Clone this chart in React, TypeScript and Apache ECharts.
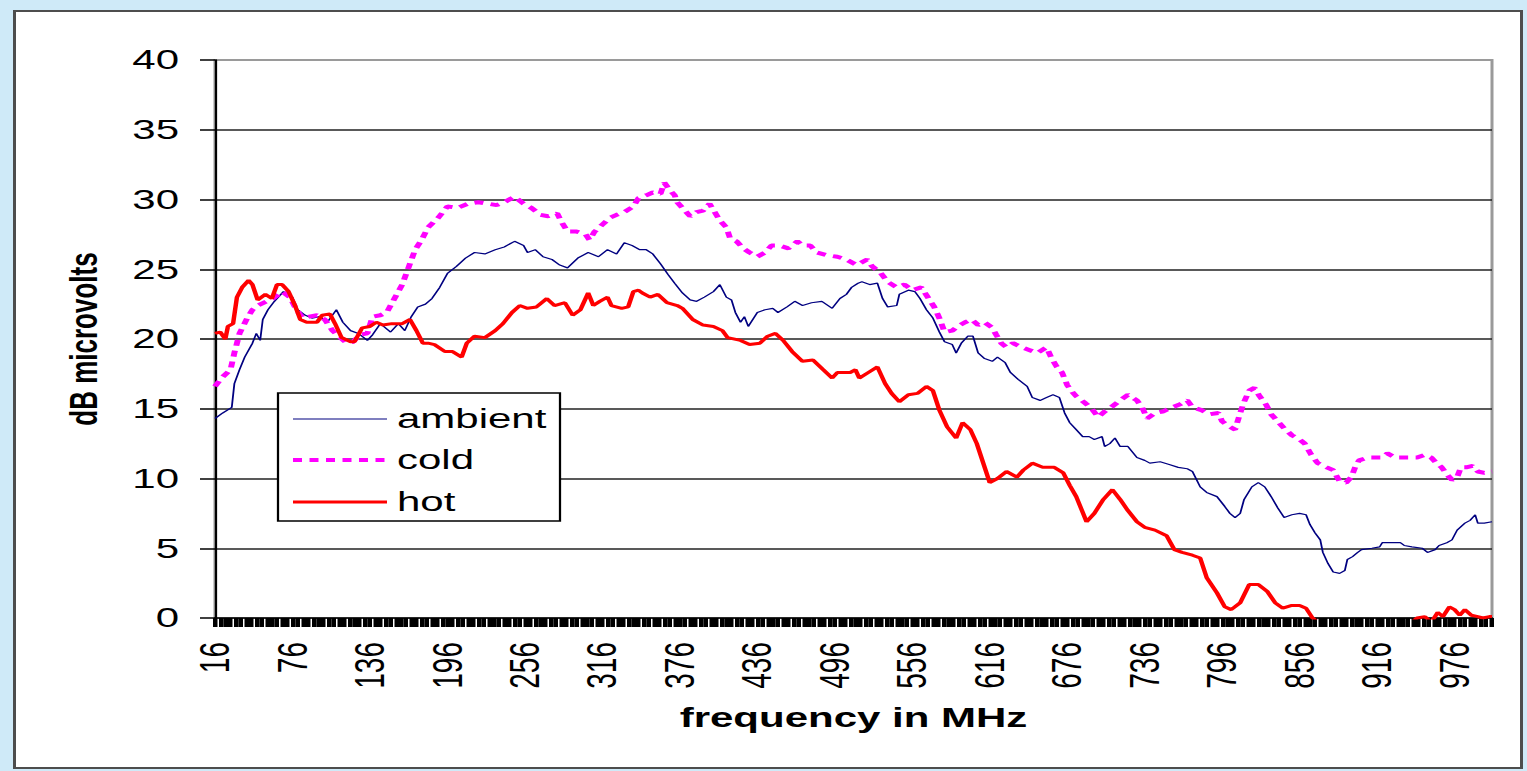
import React, { useEffect, useRef } from "react";
import * as echarts from "echarts";

// The reference is a horizontally stretched picture: the chart is drawn at 1/1.5 width and stretched.
const STRETCH = 1.5;
const PAGE_W = 1527;
const PAGE_H = 771;
const W = PAGE_W / STRETCH;
const H = PAGE_H;
const FONT = "'Liberation Sans', Arial, sans-serif";

const xMin = 16;
const xMax = 1005;
const xLabelValues = [16, 76, 136, 196, 256, 316, 376, 436, 496, 556, 616, 676, 736, 796, 856, 916, 976];
const yTicks = { min: 0, max: 40, step: 5 };

const seriesNames = ["ambient", "cold", "hot"];

const ambientData: [number, number][] = [
  [16, 14.3], [22, 14.7], [29, 15.1], [31, 16.8], [35, 17.8], [39, 18.7], [45, 19.7], [48, 20.4], [51, 19.9],
  [53, 21.4], [57, 22.1], [62, 22.7], [69, 23.4], [76, 23.0], [80, 22.1], [86, 21.7], [91, 21.5], [97, 21.6],
  [103, 21.2], [110, 22.1], [115, 21.2], [121, 20.6], [127, 20.4], [134, 19.9], [138, 20.3], [144, 21.1],
  [152, 20.5], [158, 21.1], [163, 20.6], [168, 21.6], [173, 22.3], [179, 22.5], [184, 22.9], [190, 23.7],
  [196, 24.7], [203, 25.2], [210, 25.8], [217, 26.2], [225, 26.1], [233, 26.4], [240, 26.6], [248, 27.0],
  [255, 26.7], [258, 26.2], [264, 26.4], [270, 25.9], [277, 25.7], [283, 25.3], [289, 25.1], [297, 25.8],
  [305, 26.2], [313, 25.9], [320, 26.4], [327, 26.1], [333, 26.9], [339, 26.7], [345, 26.4], [350, 26.4],
  [355, 26.1], [361, 25.4], [367, 24.6], [372, 24.0], [378, 23.3], [384, 22.8], [389, 22.7], [395, 23.0],
  [402, 23.4], [407, 23.9], [412, 23.0], [416, 22.8], [419, 21.9], [423, 21.2], [426, 21.6], [429, 20.9],
  [436, 21.9], [442, 22.1], [448, 22.2], [452, 21.9], [459, 22.3], [465, 22.7], [471, 22.4], [478, 22.6],
  [486, 22.7], [494, 22.2], [500, 22.9], [505, 23.2], [509, 23.7], [514, 24.0], [517, 24.1], [523, 23.9],
  [529, 24.0], [533, 22.9], [537, 22.3], [544, 22.4], [546, 23.2], [553, 23.5], [558, 23.4], [562, 22.9],
  [567, 22.1], [572, 21.5], [577, 20.5], [581, 19.8], [587, 19.6], [590, 19.0], [594, 19.7], [599, 20.2],
  [603, 20.2], [607, 19.0], [612, 18.6], [618, 18.4], [622, 18.7], [628, 18.3], [632, 17.6], [638, 17.1],
  [645, 16.6], [649, 15.8], [655, 15.6], [660, 15.8], [665, 16.0], [670, 15.8], [674, 14.7], [678, 14.0],
  [683, 13.5], [688, 13.0], [693, 13.0], [697, 12.8], [703, 13.0], [705, 12.3], [709, 12.5], [713, 12.9],
  [717, 12.3], [723, 12.3], [730, 11.5], [736, 11.3], [740, 11.1], [748, 11.2], [755, 11.0], [762, 10.8],
  [769, 10.7], [773, 10.5], [779, 9.4], [784, 9.0], [792, 8.7], [798, 8.0], [802, 7.5], [806, 7.2],
  [810, 7.5], [813, 8.5], [819, 9.4], [824, 9.7], [829, 9.4], [834, 8.7], [839, 7.9], [844, 7.2],
  [850, 7.4], [856, 7.5], [861, 7.4], [864, 6.7], [868, 6.1], [872, 5.6], [874, 4.7], [878, 3.9],
  [882, 3.3], [887, 3.2], [891, 3.4], [893, 4.2], [897, 4.4], [901, 4.7], [904, 4.9], [912, 5.0],
  [918, 5.1], [920, 5.4], [927, 5.4], [934, 5.4], [937, 5.2], [943, 5.1], [951, 5.0], [955, 4.7],
  [961, 4.9], [964, 5.2], [970, 5.4], [974, 5.6], [978, 6.3], [984, 6.8], [988, 7.0], [992, 7.4],
  [994, 6.8], [999, 6.8], [1005, 6.9],
];

const coldData: [number, number][] = [
  [16, 16.6], [21, 17.2], [28, 17.8], [31, 19.0], [35, 20.4], [41, 21.5], [45, 22.1], [49, 22.4], [56, 22.7],
  [61, 22.9], [68, 23.4], [74, 23.0], [79, 22.1], [84, 21.5], [89, 21.6], [95, 21.7], [101, 21.4], [107, 20.6],
  [113, 20.1], [118, 19.7], [123, 19.8], [128, 20.3], [134, 20.4], [138, 21.6], [144, 21.7], [149, 21.9],
  [155, 22.9], [161, 23.9], [165, 24.9], [171, 26.4], [176, 27.1], [181, 28.0], [189, 28.7], [196, 29.5],
  [204, 29.4], [212, 29.7], [220, 29.8], [227, 29.7], [234, 29.6], [240, 29.8], [248, 30.2], [255, 29.7],
  [261, 29.4], [268, 28.9], [274, 28.8], [281, 29.0], [285, 28.3], [289, 27.7], [296, 27.7], [303, 27.5],
  [306, 27.1], [310, 27.7], [316, 28.2], [322, 28.7], [327, 28.9], [333, 29.1], [340, 29.5], [344, 30.1],
  [350, 30.3], [355, 30.5], [361, 30.4], [364, 31.2], [368, 30.7], [372, 30.3], [374, 29.8], [380, 29.2],
  [384, 28.8], [389, 29.1], [394, 29.2], [399, 29.7], [403, 29.1], [407, 28.5], [412, 28.0], [415, 27.2],
  [420, 27.0], [425, 26.5], [430, 26.2], [436, 25.9], [442, 26.2], [447, 26.7], [453, 26.7], [460, 26.5],
  [467, 27.0], [471, 26.7], [477, 26.7], [482, 26.2], [490, 26.0], [498, 25.9], [505, 25.7], [513, 25.3],
  [521, 25.7], [525, 25.2], [531, 24.8], [537, 24.1], [544, 23.7], [550, 23.9], [556, 23.5], [563, 23.7],
  [568, 23.0], [573, 22.3], [577, 21.5], [581, 20.5], [587, 20.6], [591, 20.9], [597, 21.2], [602, 21.4],
  [607, 21.0], [612, 21.2], [618, 20.8], [621, 20.3], [625, 19.7], [629, 19.4], [634, 19.7], [641, 19.4],
  [647, 19.2], [653, 19.0], [660, 19.4], [664, 18.6], [668, 18.0], [672, 17.6], [676, 16.7], [680, 16.2],
  [683, 15.9], [690, 15.4], [695, 15.0], [700, 14.4], [705, 14.8], [710, 15.1], [717, 15.6], [723, 16.0],
  [730, 15.6], [734, 15.1], [738, 14.3], [744, 14.7], [750, 14.8], [757, 15.1], [763, 15.3], [769, 15.6],
  [773, 15.1], [780, 14.9], [786, 14.6], [793, 14.7], [796, 14.1], [800, 13.8], [806, 13.5], [810, 14.7],
  [813, 15.5], [817, 16.3], [821, 16.5], [825, 15.9], [830, 15.3], [834, 14.6], [839, 14.1], [844, 13.6],
  [850, 13.1], [856, 12.8], [860, 12.5], [865, 11.7], [870, 11.1], [877, 10.8], [882, 10.6], [887, 9.8],
  [892, 9.7], [896, 10.1], [899, 10.8], [902, 11.3], [909, 11.5], [916, 11.5], [920, 11.5], [924, 11.8],
  [930, 11.5], [935, 11.5], [941, 11.5], [947, 11.5], [953, 11.7], [958, 11.5], [962, 11.1], [966, 10.8],
  [970, 10.3], [974, 9.9], [978, 10.1], [981, 10.8], [985, 10.8], [990, 10.9], [994, 10.5], [999, 10.4],
  [1005, 10.5],
];

const hotData: [number, number][] = [
  [16, 20.4], [20, 20.5], [24, 20.0], [26, 20.9], [30, 21.1], [33, 23.0], [37, 23.7], [42, 24.2], [45, 23.9],
  [49, 22.8], [55, 23.2], [60, 22.9], [64, 23.9], [68, 23.9], [73, 23.4], [78, 22.4], [82, 21.4], [87, 21.2],
  [95, 21.2], [99, 21.7], [105, 21.8], [109, 21.1], [114, 20.1], [121, 19.8], [124, 19.8], [130, 20.8],
  [136, 20.9], [141, 21.2], [146, 21.0], [153, 21.1], [161, 21.1], [167, 21.4], [172, 20.6], [177, 19.7],
  [181, 19.7], [186, 19.6], [194, 19.1], [200, 19.1], [207, 18.7], [211, 19.7], [217, 20.2], [225, 20.1],
  [233, 20.6], [239, 21.1], [246, 21.9], [252, 22.4], [258, 22.2], [265, 22.3], [273, 22.9], [279, 22.4],
  [287, 22.6], [293, 21.7], [299, 22.1], [305, 23.3], [309, 22.4], [314, 22.7], [320, 23.0], [323, 22.4],
  [331, 22.2], [336, 22.3], [340, 23.4], [344, 23.5], [347, 23.3], [353, 23.0], [359, 23.2], [366, 22.6],
  [374, 22.4], [378, 22.2], [386, 21.4], [394, 21.0], [402, 20.9], [409, 20.6], [413, 20.1], [423, 19.9],
  [430, 19.6], [438, 19.7], [444, 20.2], [450, 20.4], [456, 19.9], [463, 19.1], [471, 18.4], [479, 18.5],
  [487, 17.8], [494, 17.2], [498, 17.6], [508, 17.6], [512, 17.8], [515, 17.2], [522, 17.6], [529, 18.0],
  [535, 16.8], [540, 16.1], [546, 15.5], [553, 16.0], [560, 16.1], [567, 16.6], [572, 16.3], [577, 14.9],
  [583, 13.7], [590, 12.9], [595, 14.0], [601, 13.5], [606, 12.5], [611, 11.1], [616, 9.7], [622, 10.0],
  [629, 10.5], [637, 10.1], [642, 10.6], [649, 11.1], [657, 10.8], [666, 10.8], [673, 10.4], [678, 9.5],
  [683, 8.7], [691, 6.9], [697, 7.5], [704, 8.5], [711, 9.2], [717, 8.5], [723, 7.7], [730, 6.9],
  [736, 6.5], [744, 6.3], [753, 5.9], [759, 4.9], [765, 4.7], [773, 4.5], [779, 4.3], [784, 2.9],
  [792, 1.8], [798, 0.8], [803, 0.6], [810, 1.1], [817, 2.4], [824, 2.4], [831, 1.9], [837, 1.1],
  [843, 0.7], [850, 0.9], [856, 0.9], [861, 0.7], [866, 0.0], [873, -0.5], [885, -1.5], [905, -2.0],
  [925, -1.5], [937, -0.6], [943, -0.3], [947, 0.0], [953, 0.1], [958, -0.3], [963, 0.4], [967, 0.1],
  [972, 0.8], [976, 0.6], [980, 0.2], [984, 0.6], [989, 0.2], [994, 0.1], [998, 0.0], [1003, 0.1],
  [1005, 0.1],
];

const seriesColors = ["#000080", "#ff00ff", "#ff0000"];
const seriesWidths = [1.2, 4, 3];
const coldDash = [6, 5];

// Minor tick marks along the frequency axis (one per 4 MHz, giving the dense black band)
const xTickValues: number[] = [];
for (let f = xMin; f <= xMax; f += 4) xTickValues.push(f);

// Plot area (chart coordinates, before stretching)
const GRID_LEFT = 215 / STRETCH;
const GRID_RIGHT = W - 1492 / STRETCH;
const GRID_TOP = 60;
const GRID_BOTTOM = H - 618;

// Legend box (chart coordinates)
const LEG_X = 278 / STRETCH;
const LEG_Y = 393;
const LEG_W = (560 - 278) / STRETCH;
const LEG_H = 128;
const LEG_LINE_X1 = 293 / STRETCH;
const LEG_LINE_X2 = 387 / STRETCH;
const LEG_TEXT_X = 397 / STRETCH;
const LEG_ROWS = [419, 460, 502];

function buildOption() {
  const datasets = [ambientData, coldData, hotData];
  const legendGraphics: any[] = [
    {
      type: "rect",
      shape: { x: LEG_X, y: LEG_Y, width: LEG_W, height: LEG_H },
      style: { fill: "#fff", stroke: "#000", lineWidth: 1.5 },
      z: 100,
    },
  ];
  seriesNames.forEach((name, i) => {
    legendGraphics.push({
      type: "line",
      shape: { x1: LEG_LINE_X1, y1: LEG_ROWS[i], x2: LEG_LINE_X2, y2: LEG_ROWS[i] },
      style: {
        stroke: seriesColors[i],
        lineWidth: seriesWidths[i],
        lineDash: i === 1 ? coldDash : null,
      },
      z: 101,
    });
    legendGraphics.push({
      type: "text",
      x: LEG_TEXT_X,
      y: LEG_ROWS[i],
      style: {
        text: name,
        fill: "#000",
        font: `28px ${FONT}`,
        textAlign: "left",
        textVerticalAlign: "middle",
      },
      z: 101,
    });
  });

  return {
    animation: false,
    backgroundColor: "transparent",
    grid: {
      left: GRID_LEFT,
      right: GRID_RIGHT,
      top: GRID_TOP,
      bottom: GRID_BOTTOM,
      show: true,
      borderColor: "#9a9a9a",
      borderWidth: 2,
      backgroundColor: "transparent",
    },
    xAxis: {
      type: "value",
      min: xMin,
      max: xMax,
      name: "frequency in MHz",
      nameLocation: "middle",
      nameGap: 86,
      nameTextStyle: { fontFamily: FONT, fontSize: 28, fontWeight: "bold", color: "#000" },
      axisLine: { show: true, onZero: false, lineStyle: { color: "#000", width: 1.5 } },
      axisTick: {
        show: true,
        customValues: xTickValues,
        length: 9,
        lineStyle: { color: "#000", width: 3.0 },
      },
      axisLabel: {
        customValues: xLabelValues,
        rotate: 90,
        margin: 24,
        fontSize: 28,
        fontFamily: FONT,
        color: "#000",
      },
      splitLine: { show: false },
    },
    yAxis: {
      type: "value",
      min: yTicks.min,
      max: yTicks.max,
      interval: yTicks.step,
      name: "dB microvolts",
      nameLocation: "middle",
      nameGap: 75,
      nameRotate: 90,
      nameTextStyle: { fontFamily: FONT, fontSize: 26, fontWeight: "bold", color: "#000" },
      axisLine: { show: true, onZero: false, lineStyle: { color: "#000", width: 1.5 } },
      axisTick: { show: true, length: 10, lineStyle: { color: "#000", width: 1.5 } },
      axisLabel: { margin: 24, fontSize: 28, fontFamily: FONT, color: "#000" },
      splitLine: {
        show: true,
        showMinLine: false,
        showMaxLine: false,
        lineStyle: { color: "#222", width: 1.5 },
      },
    },
    series: seriesNames.map((name, i) => ({
      name,
      type: "line",
      data: datasets[i],
      symbol: "none",
      showSymbol: false,
      clip: true,
      lineStyle: {
        color: seriesColors[i],
        width: seriesWidths[i],
        type: i === 1 ? coldDash : "solid",
      },
      z: 10 + i,
    })),
    graphic: legendGraphics,
  };
}

export default function App() {
  const ref = useRef<HTMLDivElement>(null);
  useEffect(() => {
    if (!ref.current) return;
    const chart = echarts.init(ref.current, null, { renderer: "svg", width: W, height: H });
    chart.setOption(buildOption() as any);
    return () => {
      chart.dispose();
    };
  }, []);
  return (
    <div
      style={{
        position: "absolute",
        left: 0,
        top: 0,
        width: PAGE_W,
        height: PAGE_H,
        background: "#cfeaf8",
        overflow: "hidden",
      }}
    >
      <div
        style={{
          position: "absolute",
          left: 13,
          top: 10,
          width: 1510,
          height: 759,
          boxSizing: "border-box",
          borderStyle: "solid",
          borderColor: "#4d4d4d",
          borderWidth: "2px 3px 2px 3px",
          background: "#fff",
        }}
      />
      <div
        ref={ref}
        style={{
          position: "absolute",
          left: 0,
          top: 0,
          width: W,
          height: H,
          transform: `scaleX(${STRETCH})`,
          transformOrigin: "0 0",
        }}
      />
    </div>
  );
}
